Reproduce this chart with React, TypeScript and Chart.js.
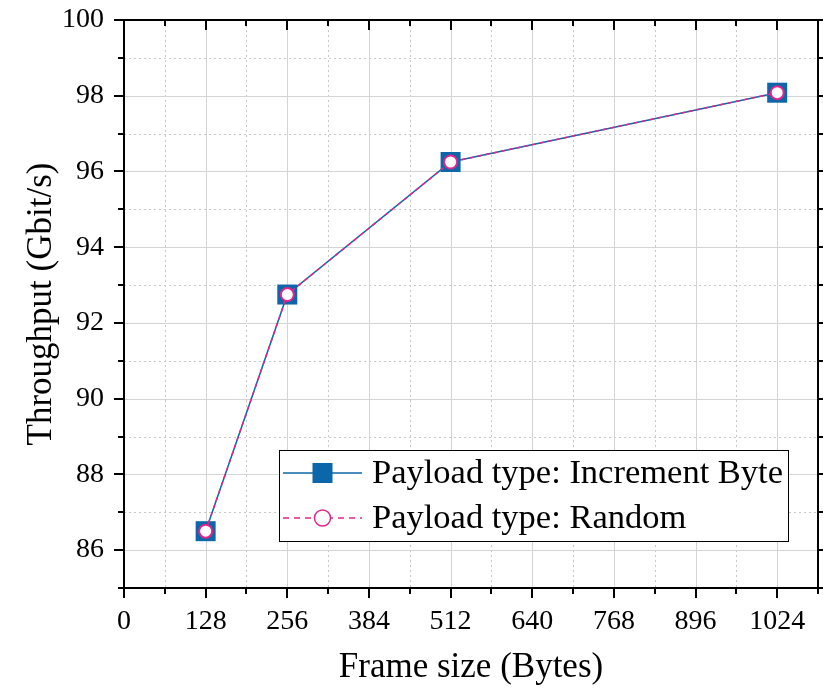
import React, { useEffect, useRef } from "react";
import { Chart, registerables } from "chart.js";

Chart.register(...registerables);

const frameSizes = [128, 256, 512, 1024];
const incrementByte = [86.5, 92.75, 96.25, 98.08];
const randomPayload = [86.5, 92.75, 96.25, 98.08];
const seriesLabels = ["Payload type: Increment Byte", "Payload type: Random"];
const xTitle = "Frame size (Bytes)";
const yTitle = "Throughput (Gbit/s)";

const BLUE = "#0b67a9";
const MAGENTA = "#e2268c";
const FONT = "'Liberation Serif', 'Times New Roman', serif";

const framePlugin = {
  id: "framePlugin",
  beforeDatasetsDraw(chart: any) {
    const { ctx, chartArea: a, scales } = chart;
    const x = scales.x, y = scales.y;
    ctx.save();
    ctx.strokeStyle = "#c8c8c8";
    ctx.lineWidth = 1;
    ctx.setLineDash([2, 3]);
    x.ticks.forEach((t: any) => {
      if (t.value % 128 !== 0) {
        const px = Math.round(x.getPixelForValue(t.value)) + 0.5;
        ctx.beginPath(); ctx.moveTo(px, a.top); ctx.lineTo(px, a.bottom); ctx.stroke();
      }
    });
    y.ticks.forEach((t: any) => {
      if (t.value % 2 !== 0) {
        const py = Math.round(y.getPixelForValue(t.value)) + 0.5;
        ctx.beginPath(); ctx.moveTo(a.left, py); ctx.lineTo(a.right, py); ctx.stroke();
      }
    });
    ctx.setLineDash([]);
    ctx.strokeStyle = "#d4d4d4";
    x.ticks.forEach((t: any) => {
      if (t.value % 128 === 0) {
        const px = Math.round(x.getPixelForValue(t.value)) + 0.5;
        ctx.beginPath(); ctx.moveTo(px, a.top); ctx.lineTo(px, a.bottom); ctx.stroke();
      }
    });
    y.ticks.forEach((t: any) => {
      if (t.value % 2 === 0) {
        const py = Math.round(y.getPixelForValue(t.value)) + 0.5;
        ctx.beginPath(); ctx.moveTo(a.left, py); ctx.lineTo(a.right, py); ctx.stroke();
      }
    });
    ctx.restore();
  },
  afterDraw(chart: any) {
    const { ctx, chartArea: a, scales } = chart;
    const x = scales.x, y = scales.y;
    ctx.save();
    ctx.strokeStyle = "#000";
    ctx.lineWidth = 2;
    ctx.setLineDash([]);
    ctx.beginPath();
    ctx.rect(a.left, a.top, a.right - a.left, a.bottom - a.top);
    ctx.stroke();
    x.ticks.forEach((t: any) => {
      const major = t.value % 128 === 0;
      const px = Math.round(x.getPixelForValue(t.value));
      const len = major ? 10 : 6;
      ctx.beginPath(); ctx.moveTo(px, a.bottom); ctx.lineTo(px, a.bottom + len); ctx.stroke();
      ctx.beginPath(); ctx.moveTo(px, a.top); ctx.lineTo(px, a.top + len); ctx.stroke();
    });
    y.ticks.forEach((t: any) => {
      const major = t.value % 2 === 0;
      const py = Math.round(y.getPixelForValue(t.value));
      const len = major ? 10 : 6;
      ctx.beginPath(); ctx.moveTo(a.left, py); ctx.lineTo(a.left - len, py); ctx.stroke();
      ctx.beginPath(); ctx.moveTo(a.right, py); ctx.lineTo(a.right + len, py); ctx.stroke();
    });
    ctx.restore();

    // legend
    const ds = chart.data.datasets;
    const bx = a.left + 155, by = a.top + 430, bw = 509, bh = 91;
    ctx.save();
    ctx.fillStyle = "#fff";
    ctx.fillRect(bx, by, bw, bh);
    ctx.strokeStyle = "#000";
    ctx.lineWidth = 1;
    ctx.strokeRect(bx + 0.5, by + 0.5, bw, bh);
    ds.forEach((d: any, i: number) => {
      const cy = by + 23 + i * 45;
      const x0 = bx + 4, x1 = bx + 83, xm = (x0 + x1) / 2;
      ctx.strokeStyle = d.borderColor;
      ctx.lineWidth = 1.5;
      ctx.setLineDash(d.borderDash ? [6, 5] : []);
      ctx.beginPath(); ctx.moveTo(x0, cy); ctx.lineTo(x1, cy); ctx.stroke();
      ctx.setLineDash([]);
      if (d.pointStyle === "rect") {
        ctx.fillStyle = d.pointBackgroundColor;
        ctx.fillRect(xm - 10, cy - 10, 20, 20);
      } else {
        ctx.fillStyle = d.pointBackgroundColor;
        ctx.strokeStyle = d.pointBorderColor;
        ctx.lineWidth = 1.5;
        ctx.beginPath(); ctx.arc(xm, cy, d.pointRadius + 1.5, 0, Math.PI * 2); ctx.fill(); ctx.stroke();
      }
      ctx.fillStyle = "#000";
      ctx.font = `34.5px ${FONT}`;
      ctx.textAlign = "left";
      ctx.textBaseline = "middle";
      ctx.fillText(d.label, bx + 93, cy + 1);
    });
    ctx.restore();
  },
};

export default function App() {
  const ref = useRef<HTMLCanvasElement>(null);
  useEffect(() => {
    document.body.style.margin = "0";
    const chart = new Chart(ref.current as HTMLCanvasElement, {
      type: "line",
      data: {
        datasets: [
          {
            label: seriesLabels[0],
            data: frameSizes.map((f, i) => ({ x: f, y: incrementByte[i] })),
            borderColor: BLUE,
            borderWidth: 1.5,
            pointStyle: "rect",
            pointRadius: 14.14,
            pointBackgroundColor: BLUE,
            pointBorderColor: BLUE,
            pointBorderWidth: 0,
            tension: 0,
            order: 2,
          },
          {
            label: seriesLabels[1],
            data: frameSizes.map((f, i) => ({ x: f, y: randomPayload[i] })),
            borderColor: MAGENTA,
            borderWidth: 1.5,
            borderDash: [4, 4],
            pointStyle: "circle",
            pointRadius: 6.5,
            pointBackgroundColor: "#fff",
            pointBorderColor: MAGENTA,
            pointBorderWidth: 2,
            tension: 0,
            order: 1,
          },
        ],
      },
      options: {
        animation: false,
        responsive: false,
        layout: { autoPadding: false, padding: { top: 20, right: 5, left: 0, bottom: 0 } },
        plugins: { legend: { display: false }, tooltip: { enabled: false } },
        scales: {
          x: {
            type: "linear",
            min: 0,
            max: 1088,
            grid: { display: false, drawTicks: false },
            border: { display: false },
            afterFit: (s: any) => { s.height = 101; s.paddingLeft = 0; s.paddingRight = 0; },
            ticks: {
              stepSize: 64,
              autoSkip: false,
              maxRotation: 0,
              padding: 17,
              color: "#000",
              font: { family: FONT, size: 28 },
              callback: (v: any) => (v % 128 === 0 ? String(v) : ""),
            },
            title: {
              display: true,
              text: xTitle,
              color: "#000",
              font: { family: FONT, size: 35 },
              padding: { top: 0, bottom: 0 },
            },
          },
          y: {
            min: 85,
            max: 100,
            grid: { display: false, drawTicks: false },
            border: { display: false },
            afterFit: (s: any) => { s.width = 124; s.paddingTop = 0; s.paddingBottom = 0; },
            ticks: {
              stepSize: 1,
              autoSkip: false,
              padding: 20,
              color: "#000",
              font: { family: FONT, size: 28 },
              callback: (v: any) => (v % 2 === 0 ? String(v) : ""),
            },
            title: {
              display: true,
              text: yTitle,
              color: "#000",
              font: { family: FONT, size: 35 },
              padding: { top: 21, bottom: 0 },
            },
          },
        },
      },
      plugins: [framePlugin],
    } as any);
    return () => chart.destroy();
  }, []);
  return (
    <div style={{ position: "fixed", left: 0, top: 0, width: 823, height: 689 }}>
      <canvas ref={ref} width={823} height={689} />
    </div>
  );
}
